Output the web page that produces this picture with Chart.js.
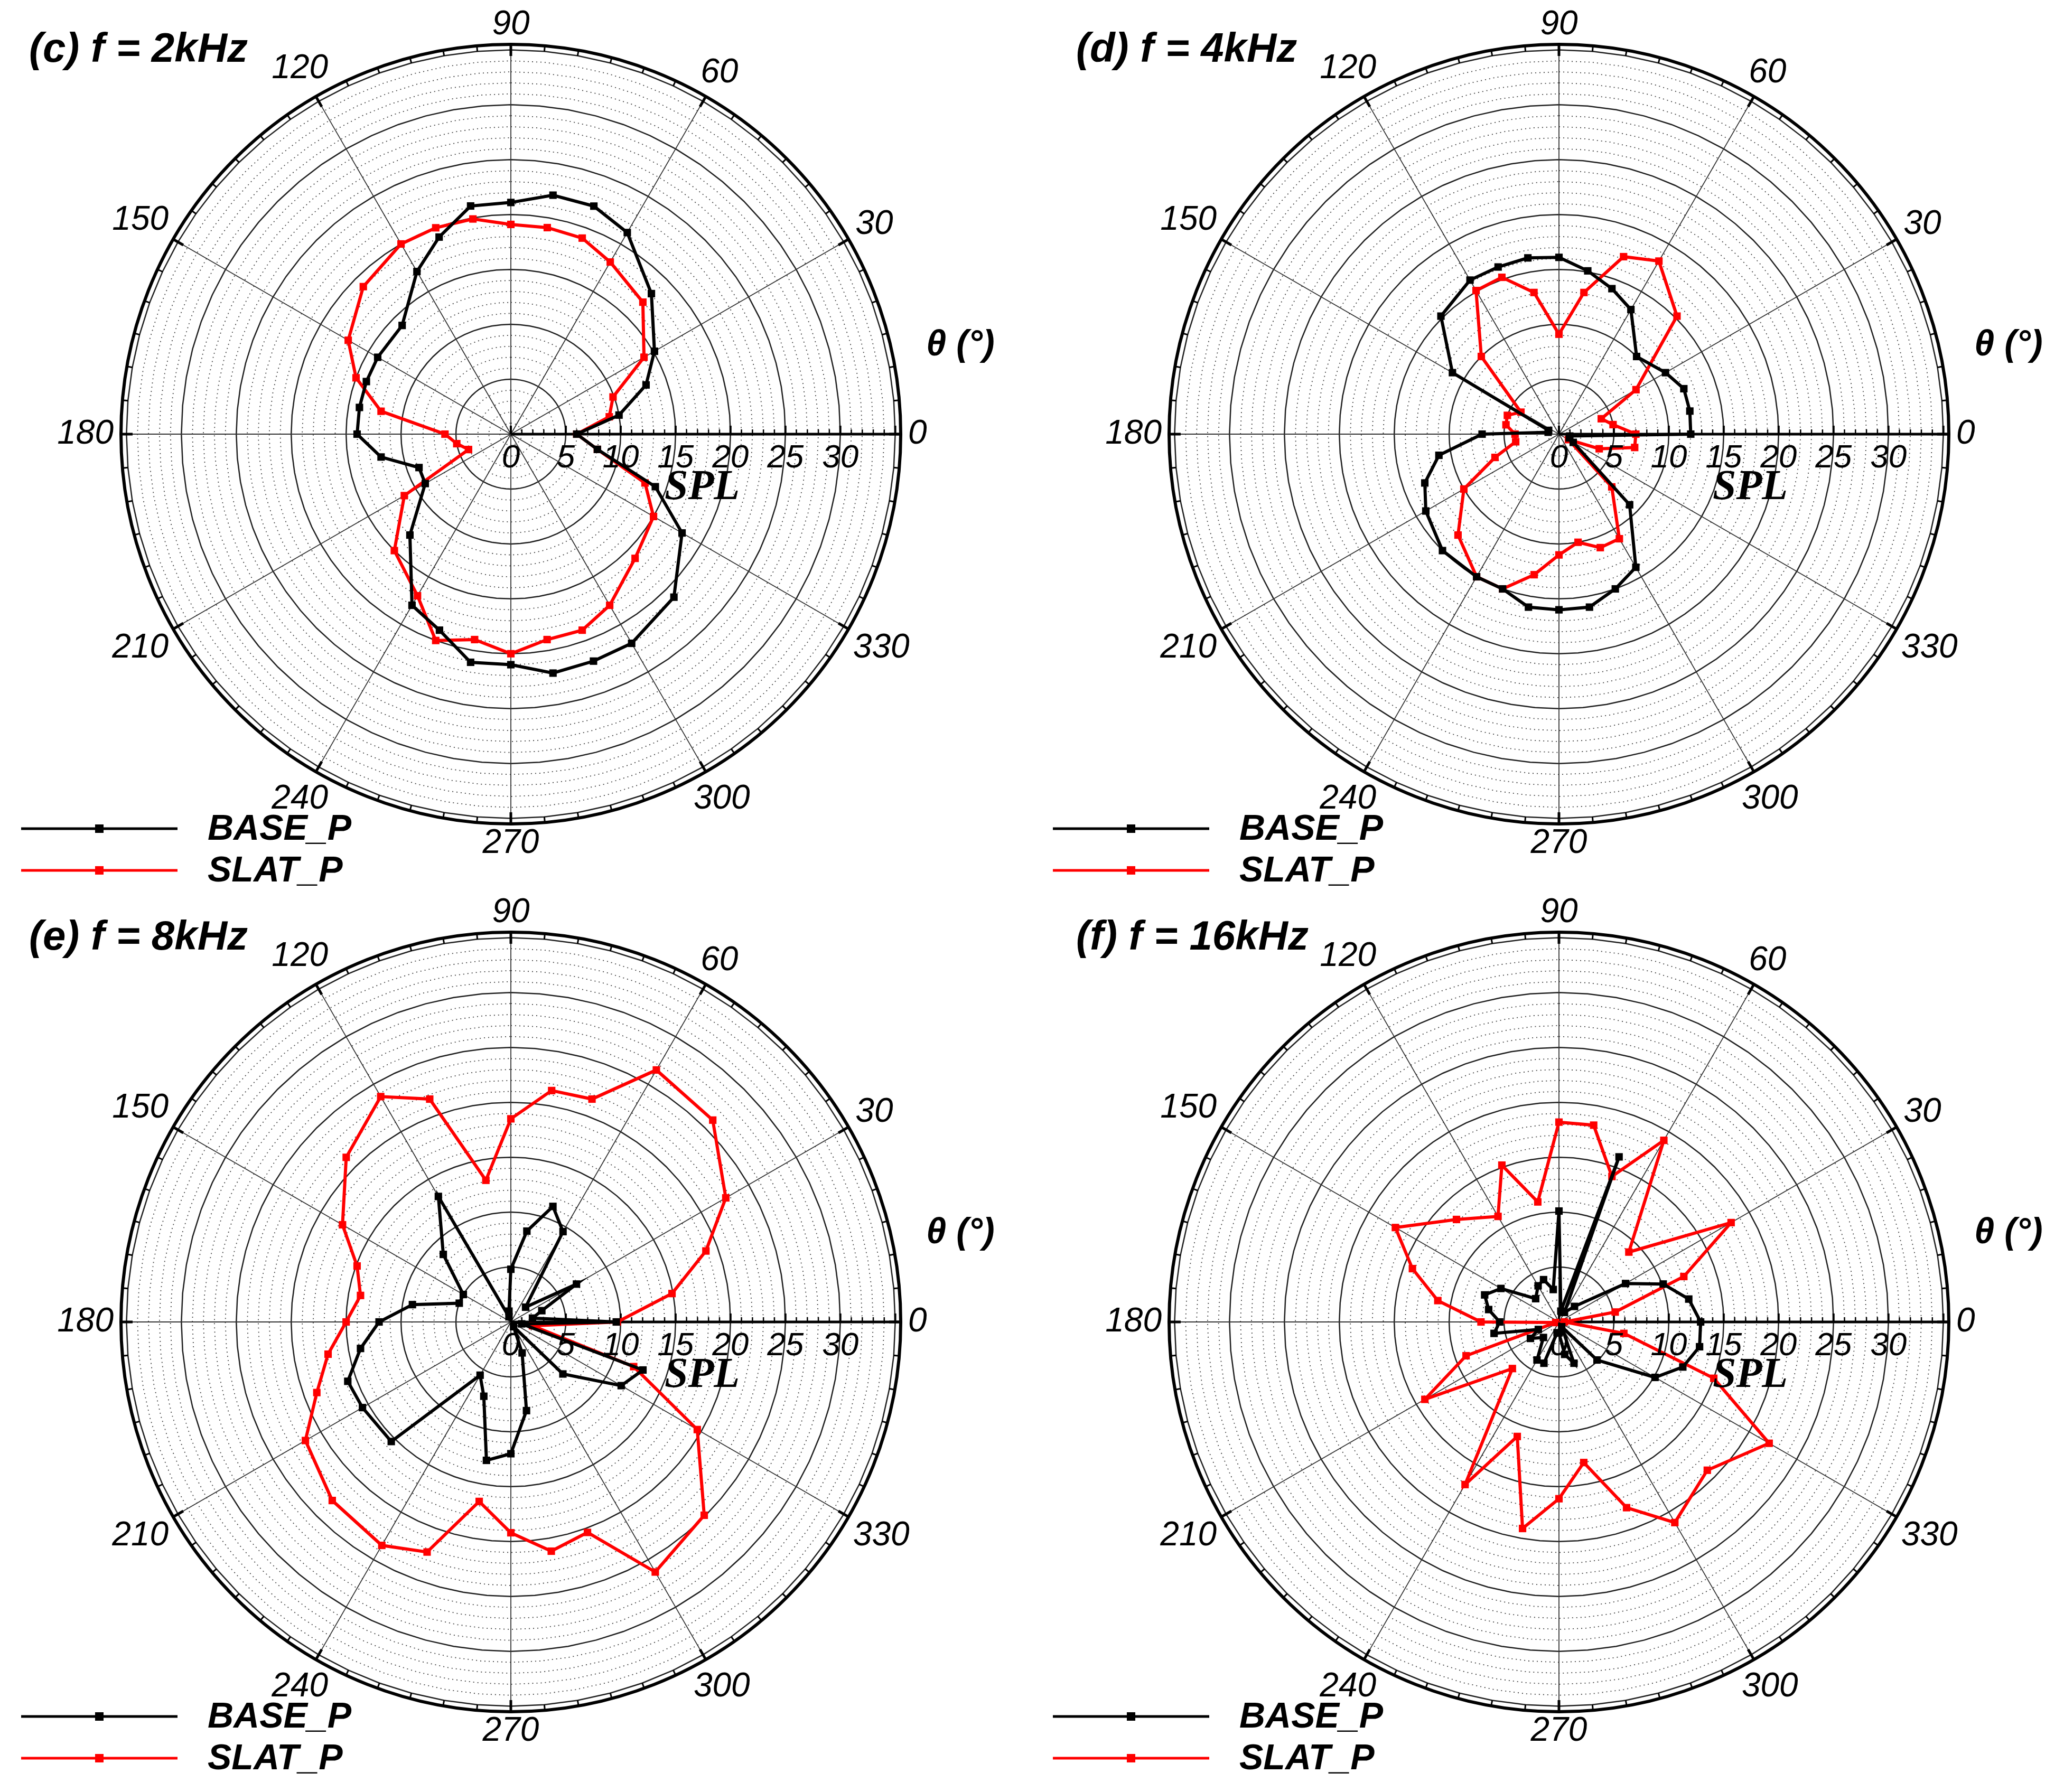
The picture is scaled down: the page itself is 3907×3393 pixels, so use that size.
<!DOCTYPE html>
<html><head><meta charset="utf-8">
<script src="https://cdn.jsdelivr.net/npm/chart.js@4.4.1/dist/chart.umd.min.js"></script>
<style>
html,body{margin:0;padding:0;background:#fff;}
#wrap{position:relative;width:3907px;height:3393px;}
.p{position:absolute;width:1953px;height:1696px;}
</style></head><body>
<div id="wrap">
<div class="p" style="left:0;top:0"><canvas id="c1" width="1953" height="1696"></canvas></div>
<div class="p" style="left:1953px;top:0"><canvas id="c2" width="1953" height="1696"></canvas></div>
<div class="p" style="left:0;top:1696px"><canvas id="c3" width="1953" height="1696"></canvas></div>
<div class="p" style="left:1953px;top:1696px"><canvas id="c4" width="1953" height="1696"></canvas></div>
</div>
<script>
const ANGLES = [0,10,20,30,45,60,70,80,90,100,110,120,135,150,160,170,180,190,200,210,225,240,250,260,270,280,290,300,315,330,340,350];
const SERIES_NAMES = ['BASE_P','SLAT_P'];
const TITLES = ['(c) f = 2kHz','(d) f = 4kHz','(e) f = 8kHz','(f) f = 16kHz'];
const RADIAL_TICKS = [0,5,10,15,20,25,30];
const ANGLE_TICKS = [0,30,60,90,120,150,180,210,240,270,300,330];

const C_BASE = [6,10,13.1,15.1,18.1,21.2,22.1,22.1,21.1,21.1,19.1,17.1,14,14,14,14,14,12,8.9,9,13,18,19,21.1,21,22.1,22,22,21,18,14,8];
const C_SLAT = [6,9.1,9.9,14,17,18.1,19,19.1,19.1,19.9,20,20,19,17.1,15,12,6,5,4.1,11.2,15,17,20,19,20,19,19,18,16,15,13,8];
const D_BASE = [12,12.1,12.1,11.2,10,13.1,14.1,15.1,16.1,16.3,16.2,16.2,15.2,11.2,1,1,7,11.1,13,14,15,15,15,16,16,16,15,14,9.1,1.5,1,1];
const D_SLAT = [7,5,4.1,8.1,15.2,18.2,17.2,13.1,9.1,13.1,15.2,15.1,10,4,5,4.9,4,4,6.2,10,13,15,15,13,11,10,11,11,6.8,1,3.9,7];
const E_BASE = [9.6,2,3,6.9,1.9,9.5,11.2,8.4,4.8,1,0.5,13.2,8.7,5,5,9.1,12,13.9,15.8,15.6,15.4,5.6,7.2,12.8,12,8.2,3,0.5,6.7,11.6,12.8,1];
const E_SLAT = [9.7,14.9,18.9,22.6,26,26.5,21.6,21.4,18.5,13.1,21.6,23.7,21.2,17.7,14.9,13.9,15,16.9,18.8,21.6,23,23.5,22.3,16.6,19.2,21.2,20.4,26.3,24.9,19.6,11.9,2];
const F_BASE = [12.9,12,10.1,7,2,1,16,1,10.1,3,4.1,3.8,3,6.1,7.2,6.5,5.4,6,2,3,2,4,4,1,1,3,4,0.5,4.9,10.1,12,13];
const F_SLAT = [0.5,5.2,12.1,18.1,9,19.1,14.1,18.2,18.2,11.1,15.2,11.1,13.2,17.2,14.2,11.2,7.1,0.3,9,14.1,6,17.1,11.1,19.1,16.1,13,18,21.1,19.1,22.1,15,6];

const RMAX = 35.5;
const SLOT_LABELS = [];
for (let i=0;i<72;i++) SLOT_LABELS.push(((90-5*i)%360+360)%360);

function toSlots(vals){
  const out = new Array(72).fill(null);
  ANGLES.forEach((a,k)=>{ const idx = SLOT_LABELS.indexOf(a); out[idx]=vals[k]; });
  return out;
}

const PANELS = [
  {id:'c1', base:C_BASE, slat:C_SLAT, title:TITLES[0], pad:{left:200,right:219,top:84,bottom:136}, tx:55, ty:95, legY:1569},
  {id:'c2', base:D_BASE, slat:D_SLAT, title:TITLES[1], pad:{left:256,right:213,top:84,bottom:136}, tx:84, ty:95, legY:1569},
  {id:'c3', base:E_BASE, slat:E_SLAT, title:TITLES[2], pad:{left:200,right:219,top:69,bottom:151}, tx:55, ty:80, legY:1554},
  {id:'c4', base:F_BASE, slat:F_SLAT, title:TITLES[3], pad:{left:256,right:213,top:69,bottom:151}, tx:84, ty:80, legY:1554},
];

function deco(panel){
  return {
    id:'deco',
    beforeDatasetsDraw(chart){
      const s = chart.scales.r, ctx = chart.ctx;
      const cx=s.xCenter, cy=s.yCenter, R=s.getDistanceFromCenterForValue(RMAX);
      ctx.save();
      ctx.strokeStyle='#000'; ctx.lineWidth=6;
      ctx.beginPath(); ctx.arc(cx,cy,R,0,Math.PI*2); ctx.stroke();
      for(let a=0;a<360;a+=5){
        const t=a*Math.PI/180, L=(a%30===0)?22:11;
        ctx.lineWidth=(a%30===0)?5:3;
        ctx.beginPath();
        ctx.moveTo(cx+R*Math.cos(t), cy-R*Math.sin(t));
        ctx.lineTo(cx+(R-L)*Math.cos(t), cy-(R-L)*Math.sin(t));
        ctx.stroke();
      }
      ctx.lineWidth=5;
      ctx.beginPath(); ctx.moveTo(cx,cy); ctx.lineTo(cx+R,cy); ctx.stroke();
      for(let v=0; v<=RMAX; v+=1){
        const x=cx+s.getDistanceFromCenterForValue(v);
        ctx.lineWidth=(v%5===0)?4:2.5;
        ctx.beginPath(); ctx.moveTo(x,cy); ctx.lineTo(x,cy-((v%5===0)?16:9)); ctx.stroke();
      }
      ctx.restore();
    },
    afterDraw(chart){
      const s = chart.scales.r, ctx = chart.ctx;
      const cx=s.xCenter, cy=s.yCenter, R=s.getDistanceFromCenterForValue(RMAX);
      ctx.save();
      ctx.fillStyle='#000';
      ctx.font='italic 64px "Liberation Sans", Arial, sans-serif';
      ctx.textAlign='center'; ctx.textBaseline='middle';
      ANGLE_TICKS.forEach(a=>{
        const t=a*Math.PI/180, txt=String(a);
        const w=ctx.measureText(txt).width, h=46;
        const d=R+14+Math.abs(Math.cos(t))*w/2+Math.abs(Math.sin(t))*h/2;
        ctx.fillText(txt, cx+d*Math.cos(t), cy-d*Math.sin(t));
      });
      ctx.font='italic 62px "Liberation Sans", Arial, sans-serif';
      RADIAL_TICKS.forEach(v=>{
        ctx.fillText(String(v), cx+s.getDistanceFromCenterForValue(v), cy+46);
      });
      ctx.font='bold italic 80px "Liberation Serif", "Times New Roman", serif';
      ctx.fillText('SPL', cx+362, cy+102);
      ctx.font='bold italic 68px "Liberation Sans", Arial, sans-serif';
      ctx.fillText('\u03B8 (\u00B0)', cx+851, cy-168);
      ctx.textAlign='left';
      ctx.font='bold italic 78px "Liberation Sans", Arial, sans-serif';
      ctx.fillText(panel.title, panel.tx, panel.ty);
      const cols=['#000','#ff0000'];
      SERIES_NAMES.forEach((n,k)=>{
        const y=panel.legY+k*79;
        ctx.strokeStyle=cols[k]; ctx.lineWidth=5;
        ctx.beginPath(); ctx.moveTo(40,y); ctx.lineTo(336,y); ctx.stroke();
        ctx.fillStyle=cols[k]; ctx.fillRect(180,y-8,16,16);
        ctx.fillStyle='#000';
        ctx.font='bold italic 68px "Liberation Sans", Arial, sans-serif';
        ctx.fillText(n, 393, y+2);
      });
      ctx.restore();
    }
  };
}

PANELS.forEach(p=>{
  new Chart(document.getElementById(p.id), {
    type:'radar',
    data:{
      labels:SLOT_LABELS,
      datasets:[
        {label:SERIES_NAMES[0], data:toSlots(p.base), borderColor:'#000', backgroundColor:'#000',
         borderWidth:6, pointStyle:'rect', pointRadius:10, pointBackgroundColor:'#000', pointBorderWidth:0,
         spanGaps:true, fill:false, tension:0},
        {label:SERIES_NAMES[1], data:toSlots(p.slat), borderColor:'#ff0000', backgroundColor:'#ff0000',
         borderWidth:6, pointStyle:'rect', pointRadius:10, pointBackgroundColor:'#ff0000', pointBorderWidth:0,
         spanGaps:true, fill:false, tension:0}
      ]
    },
    options:{
      responsive:false, animation:false, devicePixelRatio:1,
      layout:{padding:p.pad},
      plugins:{legend:{display:false}, tooltip:{enabled:false}},
      scales:{r:{
        min:0, max:RMAX, startAngle:0,
        ticks:{display:false, stepSize:1},
        pointLabels:{display:false},
        grid:{
          color:(c)=>{const v=c.tick?c.tick.value:1; if(v%1!==0) return 'rgba(0,0,0,0)'; return v%5===0?'#222':'#444';},
          lineWidth:(c)=>{const v=c.tick?c.tick.value:1; return v%5===0?2.5:1.8;}
        },
        border:{dash:(c)=>{const v=c.tick?c.tick.value:1; return v%5===0?[]:[2,6];}},
        angleLines:{
          color:(c)=> (c.index%6===0)?'#333':'rgba(0,0,0,0)',
          lineWidth:(c)=> (c.index%6===0)?1.8:0
        }
      }}
    },
    plugins:[deco(p)]
  });
});
</script>
</body></html>
